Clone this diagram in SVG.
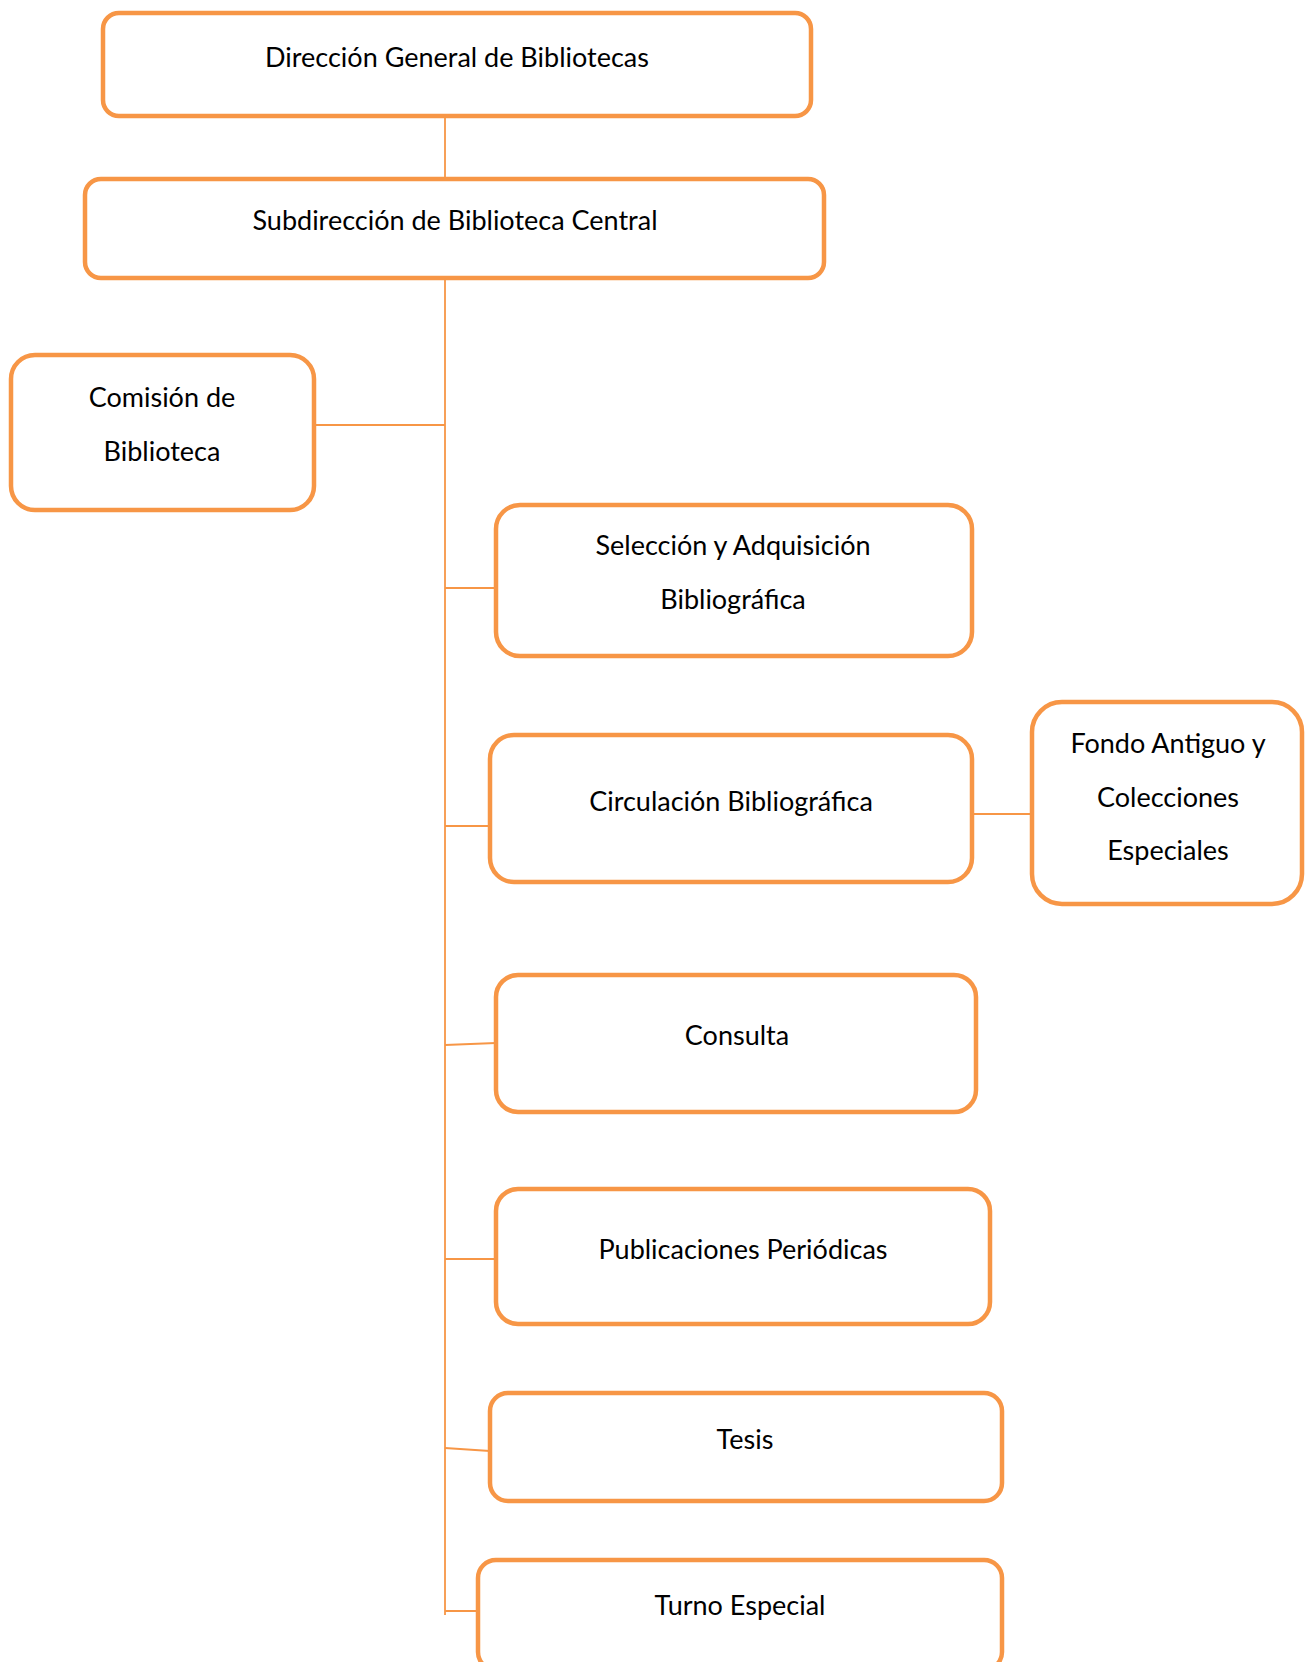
<svg xmlns="http://www.w3.org/2000/svg" width="1312" height="1662" viewBox="0 0 1312 1662">
<style>
.box{fill:#fff;stroke:#F79646;stroke-width:4.5}
.ln{stroke:#F79646;stroke-width:1.8;fill:none}
text{font-family:Lato,"Open Sans",sans-serif;font-size:27px;fill:#000;text-anchor:middle}
</style>
<rect width="1312" height="1662" fill="#fff"/>
<g id="connectors">
<line class="ln" x1="445" y1="116" x2="445" y2="179"/>
<line class="ln" x1="445" y1="278" x2="445" y2="1615"/>
<line class="ln" x1="314" y1="425" x2="445" y2="425"/>
<line class="ln" x1="445" y1="588" x2="496" y2="588"/>
<line class="ln" x1="445" y1="826" x2="490" y2="826"/>
<line class="ln" x1="972" y1="814" x2="1032" y2="814"/>
<line class="ln" x1="445" y1="1045" x2="496" y2="1043"/>
<line class="ln" x1="445" y1="1259" x2="496" y2="1259"/>
<line class="ln" x1="445" y1="1448" x2="490" y2="1451"/>
<line class="ln" x1="445" y1="1611" x2="478" y2="1611"/>
</g>
<g id="n1"><rect class="box" x="103" y="13" width="708" height="103" rx="16"/><text x="457" y="67">Dirección General de Bibliotecas</text></g>
<g id="n2"><rect class="box" x="85" y="179" width="739" height="99" rx="16"/><text x="455" y="230">Subdirección de Biblioteca Central</text></g>
<g id="n3"><rect class="box" x="11" y="355" width="303" height="155" rx="24"/><text x="162" y="407">Comisión de</text><text x="162" y="461">Biblioteca</text></g>
<g id="n4"><rect class="box" x="496" y="505" width="476" height="151" rx="24"/><text x="733" y="555">Selección y Adquisición</text><text x="733" y="609">Bibliográfica</text></g>
<g id="n5"><rect class="box" x="490" y="735" width="482" height="147" rx="24"/><text x="731" y="811">Circulación Bibliográfica</text></g>
<g id="n6"><rect class="box" x="1032" y="702" width="270" height="202" rx="30"/><text x="1168" y="753">Fondo Antiguo y</text><text x="1168" y="807">Colecciones</text><text x="1168" y="860">Especiales</text></g>
<g id="n7"><rect class="box" x="496" y="975" width="480" height="137" rx="22"/><text x="737" y="1045">Consulta</text></g>
<g id="n8"><rect class="box" x="496" y="1189" width="494" height="135" rx="22"/><text x="743" y="1259">Publicaciones Periódicas</text></g>
<g id="n9"><rect class="box" x="490" y="1393" width="512" height="108" rx="18"/><text x="745" y="1449">Tesis</text></g>
<g id="n10"><rect class="box" x="478" y="1560" width="524" height="110" rx="18"/><text x="740" y="1615">Turno Especial</text></g>
</svg>
